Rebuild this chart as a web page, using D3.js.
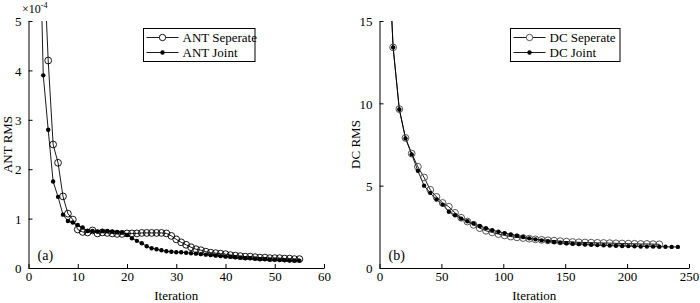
<!DOCTYPE html>
<html>
<head>
<meta charset="utf-8">
<script src="https://cdn.jsdelivr.net/npm/d3@7"></script>
<style>
  body { margin: 0; background: #fff; }
  text { font-family: "Liberation Serif", "Times New Roman", serif; fill: #000; }
</style>
</head>
<body>
<script>
// ---- data (a): ANT RMS, units of 1e-4 ----
var antSepIter = d3.range(3, 56);
var antSepVals = [6.5, 4.2, 2.5, 2.13, 1.45, 1.1, 0.98, 0.78, 0.73, 0.72, 0.76, 0.7, 0.72,
  0.71, 0.7, 0.69, 0.69, 0.7, 0.7, 0.7, 0.71, 0.71, 0.71, 0.71, 0.71, 0.7, 0.65, 0.58,
  0.52, 0.47, 0.42, 0.38, 0.36, 0.33, 0.31, 0.3, 0.29, 0.28, 0.26, 0.25, 0.24, 0.23,
  0.23, 0.22, 0.21, 0.21, 0.2, 0.2, 0.2, 0.19, 0.19, 0.18, 0.18];
var antJointIter = d3.range(2, 56);
var antJointVals = [8.1, 3.9, 2.8, 1.75, 1.44, 1.08, 0.95, 0.92, 0.87, 0.82, 0.75, 0.75,
  0.74, 0.75, 0.75, 0.74, 0.73, 0.72, 0.67, 0.6, 0.55, 0.5, 0.44, 0.4, 0.38, 0.36, 0.34,
  0.33, 0.32, 0.32, 0.31, 0.3, 0.29, 0.28, 0.27, 0.26, 0.25, 0.24, 0.23, 0.23, 0.22,
  0.21, 0.2, 0.2, 0.19, 0.18, 0.18, 0.17, 0.17, 0.16, 0.16, 0.15, 0.15, 0.15];

// ---- data (b): DC RMS ----
var dcSepIter = d3.range(6, 227, 5);
var dcSepVals = [21.4, 13.4, 9.65, 7.9, 6.95, 6.15, 5.5, 4.75, 4.32, 3.95, 3.72, 3.35,
  3.05, 2.82, 2.62, 2.42, 2.26, 2.16, 2.06, 1.98, 1.91, 1.86, 1.82, 1.78, 1.74, 1.71,
  1.68, 1.66, 1.63, 1.6, 1.58, 1.56, 1.55, 1.54, 1.53, 1.52, 1.51, 1.5, 1.49, 1.48,
  1.47, 1.46, 1.46, 1.45, 1.44];
var dcJointIter = d3.range(6, 242, 5);
var dcJointVals = [21.4, 13.4, 9.63, 7.87, 6.9, 5.9, 5.0, 4.56, 4.16, 3.85, 3.42, 3.2,
  3.0, 2.84, 2.7, 2.55, 2.42, 2.3, 2.2, 2.12, 2.03, 1.96, 1.88, 1.8, 1.74, 1.68, 1.62,
  1.58, 1.54, 1.5, 1.47, 1.45, 1.43, 1.41, 1.39, 1.38, 1.36, 1.35, 1.34, 1.33, 1.32,
  1.31, 1.3, 1.3, 1.29, 1.29, 1.28, 1.28];

var antXTicks = [0, 10, 20, 30, 40, 50, 60];
var antYTicks = [0, 1, 2, 3, 4, 5];
var dcXTicks = [0, 50, 100, 150, 200, 250];
var dcYTicks = [0, 5, 10, 15];

var W = 700, H = 303;
var svg = d3.select("body").append("svg")
  .attr("width", W).attr("height", H);

function zip(xs, ys) {
  return xs.map(function(x, i) { return [x, ys[i]]; });
}

function panel(cfg) {
  var x = d3.scaleLinear().domain(cfg.xDomain).range([cfg.left, cfg.right]);
  var y = d3.scaleLinear().domain(cfg.yDomain).range([cfg.bottom, cfg.top]);
  var g = svg.append("g");

  // clip so curves stop at the top of the axes
  svg.append("clipPath").attr("id", cfg.id)
    .append("rect")
    .attr("x", cfg.left).attr("y", cfg.top)
    .attr("width", cfg.right - cfg.left + 20).attr("height", cfg.bottom - cfg.top);

  // axes, inward ticks
  var fmt = d3.format("d");
  var xAxis = d3.axisBottom(x).tickValues(cfg.xTicks).tickFormat(fmt)
    .tickSizeInner(-4).tickSizeOuter(0).tickPadding(4);
  var yAxis = d3.axisLeft(y).tickValues(cfg.yTicks).tickFormat(fmt)
    .tickSizeInner(-4).tickSizeOuter(0).tickPadding(7);
  var gx = g.append("g").attr("transform", "translate(0," + cfg.bottom + ")").call(xAxis);
  var gy = g.append("g").attr("transform", "translate(" + cfg.left + ",0)").call(yAxis);
  [gx, gy].forEach(function(a) {
    a.attr("font-family", null);
    a.selectAll("text").style("font-size", "13px");
    a.select(".domain").attr("stroke", "#000").attr("stroke-width", 1);
    a.selectAll(".tick line").attr("stroke", "#000");
  });
  gy.selectAll("text").attr("dy", "0.36em");

  // axis titles
  g.append("text")
    .attr("x", (cfg.left + cfg.right) / 2).attr("y", cfg.bottom + 32)
    .attr("text-anchor", "middle").style("font-size", "13px").text("Iteration");
  g.append("text")
    .attr("transform", "translate(" + cfg.labelX + "," + ((cfg.top + cfg.bottom) / 2) + ") rotate(-90)")
    .attr("text-anchor", "middle").attr("dy", "0.35em").style("font-size", "13px").text(cfg.yLabel);

  // panel tag
  g.append("text").attr("x", cfg.left + 9).attr("y", cfg.bottom - 8)
    .style("font-size", "14px").text(cfg.tag);

  var line = d3.line().x(function(d) { return x(d[0]); }).y(function(d) { return y(d[1]); });
  var plot = g.append("g").attr("clip-path", "url(#" + cfg.id + ")");

  var sep = zip(cfg.sepX, cfg.sepY);
  var joint = zip(cfg.jointX, cfg.jointY);

  plot.append("path").datum(sep).attr("d", line)
    .attr("fill", "none").attr("stroke", "#000").attr("stroke-width", 0.9);
  plot.append("path").datum(joint).attr("d", line)
    .attr("fill", "none").attr("stroke", "#000").attr("stroke-width", 0.9);

  plot.selectAll(".sep").data(sep).enter().append("circle")
    .attr("cx", function(d) { return x(d[0]); })
    .attr("cy", function(d) { return y(d[1]); })
    .attr("r", 3.4).attr("fill", "none").attr("stroke", cfg.circleStroke).attr("stroke-width", 0.9);
  plot.selectAll(".joint").data(joint).enter().append("circle")
    .attr("cx", function(d) { return x(d[0]); })
    .attr("cy", function(d) { return y(d[1]); })
    .attr("r", 2.2).attr("fill", "#000");

  // legend
  var L = cfg.legend;
  g.append("rect").attr("x", L.x).attr("y", L.y).attr("width", L.w).attr("height", 33)
    .attr("fill", "#fff").attr("stroke", "#000").attr("stroke-width", 1);
  cfg.names.forEach(function(name, i) {
    var cy = L.y + 9 + i * 15;
    g.append("line").attr("x1", L.x + 3).attr("x2", L.x + 3 + L.len)
      .attr("y1", cy).attr("y2", cy).attr("stroke", "#000").attr("stroke-width", 0.9);
    if (i === 0) {
      g.append("circle").attr("cx", L.x + 3 + L.len / 2).attr("cy", cy).attr("r", 3.2)
        .attr("fill", "#fff").attr("stroke", cfg.circleStroke).attr("stroke-width", 0.9);
    } else {
      g.append("circle").attr("cx", L.x + 3 + L.len / 2).attr("cy", cy).attr("r", 2.2).attr("fill", "#000");
    }
    g.append("text").attr("x", L.x + L.len + 7).attr("y", cy).attr("dy", "0.35em")
      .style("font-size", "13px").text(name);
  });
  return g;
}

var gA = panel({
  id: "clipA", left: 28.5, right: 324, top: 21, bottom: 268, labelX: 7,
  xDomain: [0, 60], yDomain: [0, 5], xTicks: antXTicks, yTicks: antYTicks,
  yLabel: "ANT RMS", tag: "(a)", circleStroke: "#000",
  sepX: antSepIter, sepY: antSepVals, jointX: antJointIter, jointY: antJointVals,
  names: ["ANT Seperate", "ANT Joint"],
  legend: { x: 143.5, y: 28.5, w: 111.5, len: 32 }
});
gA.append("text").attr("x", 22).attr("y", 13).style("font-size", "12px")
  .text("\u00d710")
  .append("tspan").attr("dy", -5).style("font-size", "8px").text("-4");

panel({
  id: "clipB", left: 379.5, right: 689, top: 21, bottom: 268, labelX: 355,
  xDomain: [0, 250], yDomain: [0, 15], xTicks: dcXTicks, yTicks: dcYTicks,
  yLabel: "DC RMS", tag: "(b)", circleStroke: "#444",
  sepX: dcSepIter, sepY: dcSepVals, jointX: dcJointIter, jointY: dcJointVals,
  names: ["DC Seperate", "DC Joint"],
  legend: { x: 510.5, y: 28.5, w: 109.5, len: 32 }
});
</script>
</body>
</html>
